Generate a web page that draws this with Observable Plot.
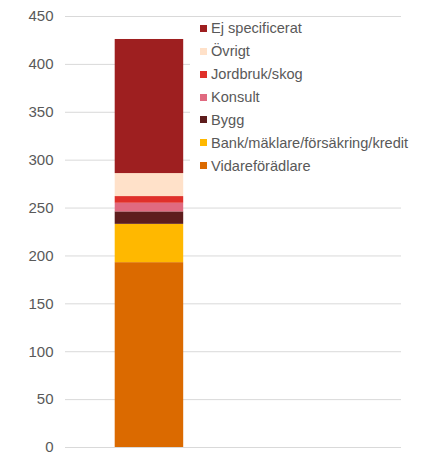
<!DOCTYPE html>
<html>
<head>
<meta charset="utf-8">
<script src="https://cdn.jsdelivr.net/npm/d3@7"></script>
<script src="https://cdn.jsdelivr.net/npm/@observablehq/plot@0.6"></script>
<style>
  html, body { margin: 0; padding: 0; background: #fff; }
  #wrap { position: relative; width: 423px; height: 452px; font-family: "Liberation Sans", Arial, sans-serif; }
  #legend { position: absolute; left: 190px; top: 18px; width: 225px; height: 158px; background: #fff; }
  .item { position: absolute; left: 10px; height: 16px; display: flex; align-items: center; font-size: 14.6px; color: #595959; white-space: nowrap; }
  .sw { width: 7px; height: 7px; margin-right: 4px; flex: none; }
</style>
</head>
<body>
<div id="wrap"></div>
<script>
// Stack order: bottom to top
const categories = ["Vidareförädlare", "Bank/mäklare/försäkring/kredit", "Bygg", "Konsult", "Jordbruk/skog", "Övrigt", "Ej specificerat"];
const values = [193, 40, 13, 9, 7, 24, 140];
const colors = ["#DB6A00", "#FFB800", "#5E1D1D", "#E06A80", "#E0302A", "#FFE1C9", "#9E1F20"];
const yTicks = [0, 50, 100, 150, 200, 250, 300, 350, 400, 450];
const legendOrder = ["Ej specificerat", "Övrigt", "Jordbruk/skog", "Konsult", "Bygg", "Bank/mäklare/försäkring/kredit", "Vidareförädlare"];

const rows = categories.map((c, i) => ({ group: "A", category: c, value: values[i] }));

const chart = Plot.plot({
  width: 423,
  height: 452,
  marginLeft: 65,
  marginRight: 22,
  marginTop: 16,
  marginBottom: 5,
  style: { fontFamily: "'Liberation Sans', Arial, sans-serif", fontSize: "15px", color: "#595959", background: "#fff" },
  x: { type: "band", domain: ["A", "B"], padding: 0, axis: null },
  y: { domain: [0, 450], ticks: yTicks, axis: null },
  color: { domain: categories, range: colors },
  marks: [
    Plot.ruleY(yTicks, { stroke: "#d9d9d9", strokeWidth: 1 }),
    Plot.axisY({ ticks: yTicks, tickSize: 0, tickPadding: 12, label: null, fill: "#595959" }),
    Plot.barY(rows, Plot.stackY({ x: "group", y: "value", fill: "category", insetLeft: 49.7, insetRight: 49.8, order: null }))
  ]
});

const wrap = document.getElementById("wrap");
wrap.appendChild(chart);

const legend = document.createElement("div");
legend.id = "legend";
const colorOf = Object.fromEntries(categories.map((c, i) => [c, colors[i]]));
legendOrder.forEach((c, i) => {
  const it = document.createElement("div");
  it.className = "item";
  it.style.top = (2.3 + i * 22.9) + "px";
  const sw = document.createElement("span");
  sw.className = "sw";
  sw.style.background = colorOf[c];
  const tx = document.createElement("span");
  tx.textContent = c;
  it.appendChild(sw);
  it.appendChild(tx);
  legend.appendChild(it);
});
wrap.appendChild(legend);
</script>
</body>
</html>
